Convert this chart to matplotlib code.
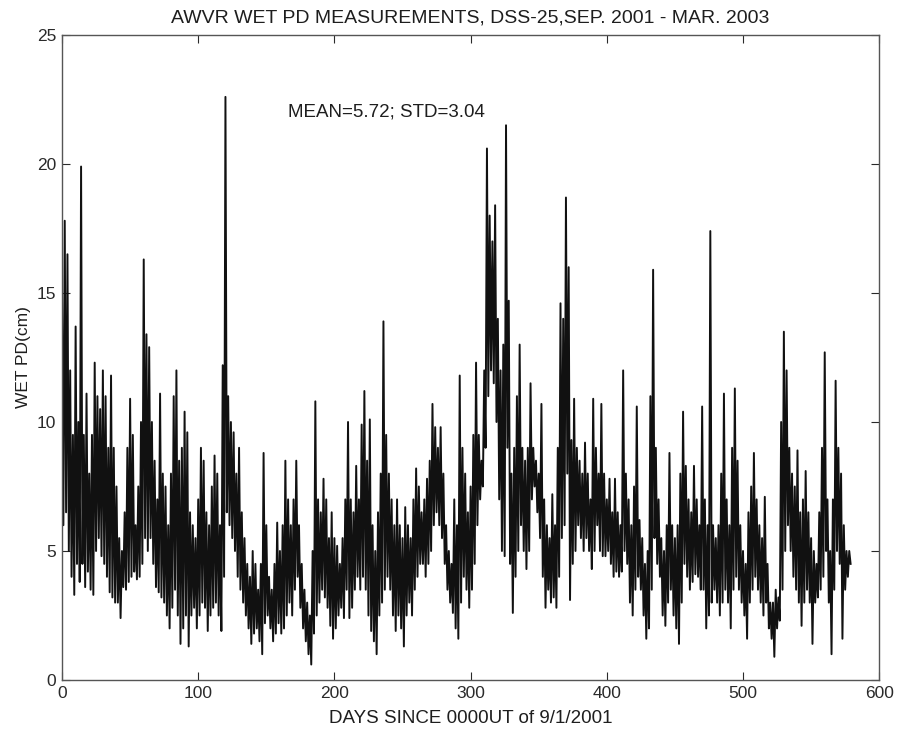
import matplotlib

matplotlib.use("Agg")
import matplotlib.pyplot as plt
import numpy as np

plt.rcParams["font.family"] = ["Liberation Sans", "DejaVu Sans"]

TITLE = "AWVR WET PD MEASUREMENTS, DSS-25,SEP. 2001 - MAR. 2003"
X_LABEL = "DAYS SINCE 0000UT of 9/1/2001"
Y_LABEL = "WET PD(cm)"
STATS_NOTE = "MEAN=5.72; STD=3.04"

# one sample every 2 days, daily high / low (cm)
DAY_STEP = 2
wet_pd_high = [
    15.0, 17.8, 16.5, 12.0, 9.5, 13.7, 10.0, 19.9, 9.5, 11.1,
    8.0, 9.5, 12.3, 11.0, 10.5, 12.0, 11.0, 9.0, 11.8, 9.0,
    7.5, 5.5, 5.0, 6.5, 9.0, 10.9, 9.5, 6.0, 7.5, 10.0,
    16.3, 13.4, 12.9, 10.0, 8.5, 7.0, 11.1, 8.0, 7.5, 6.0,
    8.0, 11.0, 12.0, 8.5, 9.0, 10.4, 9.6, 6.5, 6.0, 5.5,
    7.0, 9.0, 8.5, 6.5, 6.0, 7.5, 8.7, 8.0, 6.0, 12.2,
    22.6, 11.0, 10.0, 9.6, 8.0, 9.0, 6.5, 5.5, 4.5, 4.0,
    5.0, 4.5, 3.5, 4.5, 8.8, 6.0, 4.0, 3.5, 4.5, 6.1,
    5.0, 6.0, 8.5, 7.0, 6.0, 7.0, 8.5, 6.0, 4.5, 3.5,
    3.0, 2.5, 5.0, 10.8, 7.0, 6.5, 7.8, 7.0, 5.5, 6.5,
    5.5, 5.2, 4.5, 5.5, 7.0, 10.0, 7.0, 6.5, 8.3, 7.0,
    9.9, 11.2, 8.5, 10.1, 6.0, 5.0, 6.5, 8.0, 13.9, 9.5,
    8.0, 7.0, 6.0, 7.0, 6.0, 5.5, 6.7, 6.0, 5.5, 7.0,
    8.2, 7.5, 6.5, 7.0, 7.8, 8.5, 10.7, 9.8, 9.0, 9.8,
    8.0, 6.0, 5.0, 4.5, 7.0, 6.0, 11.8, 9.0, 8.0, 6.5,
    7.5, 9.5, 12.3, 9.5, 8.5, 12.0, 20.6, 18.0, 17.0, 18.4,
    14.0, 12.0, 13.0, 21.5, 14.7, 8.0, 9.0, 11.0, 13.0, 9.0,
    8.5, 9.0, 11.5, 9.0, 8.5, 8.0, 10.7, 7.0, 6.0, 5.5,
    7.2, 6.0, 9.0, 14.6, 14.0, 18.7, 16.0, 9.3, 10.9, 9.0,
    8.5, 8.0, 9.2, 8.0, 7.0, 10.9, 9.0, 8.0, 10.7, 8.0,
    7.0, 7.8, 6.5, 7.8, 6.5, 6.0, 12.0, 8.0, 7.0, 6.0,
    7.5, 10.6, 6.2, 5.5, 4.5, 5.0, 11.0, 15.9, 9.0, 7.0,
    5.5, 5.0, 6.0, 8.8, 6.0, 5.5, 6.0, 8.0, 10.4, 8.3,
    7.0, 6.5, 8.3, 7.0, 6.0, 10.6, 7.0, 6.0, 17.4, 6.0,
    5.5, 6.0, 8.0, 11.1, 7.0, 6.0, 9.0, 11.3, 8.5, 6.0,
    5.0, 4.5, 6.5, 7.5, 8.8, 7.0, 6.0, 5.5, 7.1, 4.5,
    3.0, 3.0, 3.5, 3.2, 10.0, 13.5, 12.0, 9.0, 8.0, 7.5,
    8.9, 6.5, 7.0, 8.1, 6.5, 5.5, 5.0, 4.5, 6.5, 9.0,
    12.7, 7.0, 5.0, 7.0, 11.6, 9.0, 8.0, 6.0, 5.0, 5.0,
]
wet_pd_low = [
    6.0, 6.5, 5.0, 4.0, 3.3, 4.5, 3.8, 4.5, 3.6, 4.2,
    3.5, 3.3, 5.0, 5.5, 4.8, 4.5, 4.0, 3.4, 3.2, 3.0,
    3.0, 2.4, 3.6, 3.5, 3.8, 4.0, 4.2, 3.9, 4.0, 4.5,
    5.5, 5.0, 5.5, 4.5, 3.6, 3.4, 3.2, 3.0, 2.5, 2.0,
    2.8, 3.5, 2.5, 1.4, 2.0, 2.5, 1.3, 2.5, 2.8, 2.0,
    2.5, 3.0, 2.8, 1.9, 2.5, 2.8, 3.0, 2.5, 1.9, 4.0,
    6.5, 6.0, 5.5, 5.0, 4.0, 3.5, 3.0, 2.5, 2.0, 1.4,
    1.8, 2.0, 1.5, 1.0, 2.2, 2.5, 2.0, 1.5, 1.8, 2.2,
    1.8, 2.0, 2.5, 3.0, 2.5, 3.5, 4.0, 2.8, 2.0, 1.5,
    1.0, 0.6, 1.8, 2.5, 3.0, 3.5, 3.2, 2.8, 2.1, 1.6,
    2.0, 2.5, 2.8, 2.4, 3.5, 2.4, 2.8, 3.5, 4.0, 3.5,
    4.0, 3.5, 2.5, 1.9, 1.5, 1.0, 2.5, 3.0, 3.5, 4.0,
    3.5, 2.5, 1.9, 2.5, 2.0, 1.3, 2.5, 3.0, 2.5, 3.5,
    4.0, 4.5, 4.5, 4.0, 4.5, 5.0, 6.0, 6.5, 6.0, 5.5,
    4.5, 3.5, 3.0, 2.6, 2.0, 1.6, 3.0, 4.0, 3.5, 2.8,
    3.5, 4.5, 6.0, 7.0, 7.5, 9.0, 11.0, 12.0, 11.5, 10.0,
    7.0, 5.0, 4.8, 9.0, 4.5, 2.6, 4.0, 5.0, 6.0, 5.0,
    4.3, 5.0, 7.0, 7.5, 6.5, 5.5, 4.0, 2.8, 3.5, 3.0,
    3.2, 2.8, 4.0, 5.5, 6.0, 8.0, 3.1, 4.5, 5.0, 6.0,
    5.5, 5.0, 5.5, 5.0, 4.3, 5.0, 6.0, 5.0, 4.8, 4.8,
    5.0, 4.5, 4.0, 4.2, 4.0, 4.2, 5.0, 4.5, 3.0, 2.5,
    3.5, 4.0, 3.5, 2.5, 1.6, 2.0, 3.5, 5.5, 4.5, 4.0,
    2.5, 2.1, 3.0, 3.5, 2.5, 2.0, 1.4, 3.0, 4.5, 4.0,
    3.5, 3.8, 4.1, 4.0, 3.5, 3.5, 2.0, 2.5, 3.0, 3.5,
    3.0, 2.5, 3.0, 3.5, 3.0, 2.0, 3.5, 4.0, 3.5, 3.0,
    2.5, 1.6, 3.0, 3.5, 4.0, 3.5, 3.0, 2.5, 3.0, 2.0,
    1.6, 0.9, 2.0, 2.3, 3.5, 5.0, 6.0, 5.0, 4.0, 3.5,
    3.0, 2.1, 3.0, 3.5, 3.0, 1.4, 3.0, 3.2, 3.5, 4.0,
    5.0, 3.0, 1.0, 3.5, 5.0, 4.5, 1.6, 3.5, 4.0, 4.5,
]

X_TICKS = [0, 100, 200, 300, 400, 500, 600]
Y_TICKS = [0, 5, 10, 15, 20, 25]


def build_trace(high, low, step):
    assert len(high) == len(low)
    days = np.arange(len(high)) * step
    x = np.empty(2 * len(days))
    y = np.empty(2 * len(days))
    x[0::2] = days
    x[1::2] = days + step / 2
    y[0::2] = high
    y[1::2] = low
    return x, y


def main() -> None:
    x, y = build_trace(wet_pd_high, wet_pd_low, DAY_STEP)

    fig = plt.figure(figsize=(9.0, 7.33), dpi=100)
    ax = fig.add_axes([0.0689, 0.0723, 0.908, 0.880])
    ax.plot(x, y, color="#111111", linewidth=1.4)

    ax.set_xlim(0, 600)
    ax.set_ylim(0, 25)
    ax.set_xticks(X_TICKS)
    ax.set_yticks(Y_TICKS)
    ax.tick_params(direction="in", length=6, top=True, right=True,
                   labelsize=12.5, colors="#2a2a2a", pad=4)
    for spine in ax.spines.values():
        spine.set_color("#555555")
        spine.set_linewidth(1.0)

    ax.set_title(TITLE, fontsize=14, color="#1e1e1e", pad=9)
    ax.set_xlabel(X_LABEL, fontsize=13.5, color="#1e1e1e", labelpad=7)
    ax.set_ylabel(Y_LABEL, fontsize=12.5, color="#1e1e1e", labelpad=4)
    ax.text(166, 22.0, STATS_NOTE, fontsize=13.5, color="#1e1e1e", va="center")

    fig.savefig("out.png", dpi=100)
    plt.close(fig)


if __name__ == "__main__":
    main()
